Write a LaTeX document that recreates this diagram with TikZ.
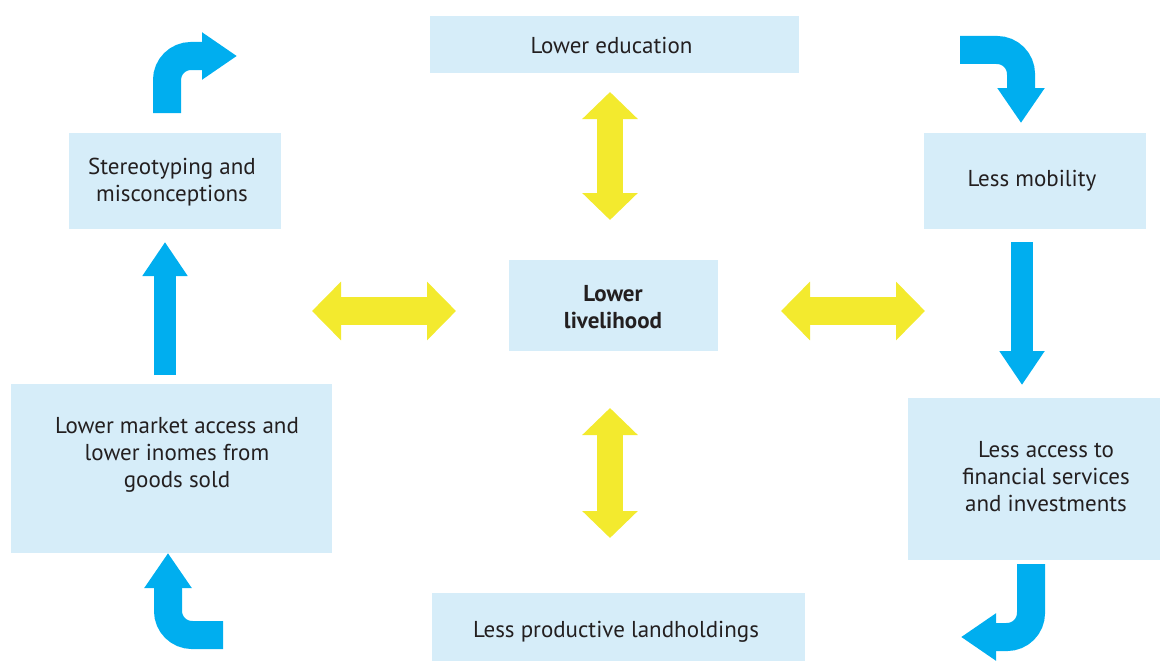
\documentclass[tikz,border=0pt]{standalone}
\usepackage{fontspec}
\setmainfont{PT Sans}
\usetikzlibrary{arrows.meta}
\definecolor{boxblue}{HTML}{D6EDF9}
\definecolor{arrblue}{HTML}{00AEEF}
\definecolor{arryel}{HTML}{F3EA2E}
\definecolor{txtcol}{HTML}{231F20}
\begin{document}
\begin{tikzpicture}[x=1pt,y=-1pt,
  box/.style={fill=boxblue, draw=none, inner sep=0pt},
  lbl/.style={text=txtcol, font=\fontsize{23}{27}\selectfont, align=center, inner sep=0pt},
  bluecurve/.style={draw=arrblue, line width=28pt, rounded corners=24pt,
    -{Triangle[length=35pt,width=45pt]}},
  bluestraight/.style={draw=arrblue, line width=22pt,
    -{Triangle[length=34pt,width=43pt]}},
  yelv/.style={draw=arryel, line width=26pt,
    {Triangle[length=27pt,width=54pt]}-{Triangle[length=27pt,width=54pt]}},
  yelh/.style={draw=arryel, line width=28pt,
    {Triangle[length=29pt,width=57pt]}-{Triangle[length=29pt,width=57pt]}}
]
\useasboundingbox (0,0) rectangle (1161,661);

% boxes
\node[box, minimum width=369pt, minimum height=57pt] (edu) at (614.5,44.5) {};
\node[box, minimum width=212pt, minimum height=96pt] (stereo) at (175,181) {};
\node[box, minimum width=222pt, minimum height=96pt] (mob) at (1035,181) {};
\node[box, minimum width=209pt, minimum height=91pt] (live) at (613,305.5) {};
\node[box, minimum width=321pt, minimum height=169pt] (market) at (171.5,468.5) {};
\node[box, minimum width=252pt, minimum height=162pt] (fin) at (1034,479) {};
\node[box, minimum width=373pt, minimum height=68pt] (land) at (618.5,627) {};

% texts
\node[lbl, anchor=base] (edutxt) at (611.5,53.3) {Lower education};
\node[lbl] (stereotxt) at (172,182) {Stereotyping and\\misconceptions};
\node[lbl, anchor=base] (mobtxt) at (1032,186) {Less mobility};
\node[lbl, font=\fontsize{23}{27}\selectfont\bfseries] (livetxt) at (613,307.5) {Lower\\livelihood};
\node[lbl] (markettxt) at (177,455) {Lower market access and\\lower inomes from\\goods sold};
\node[lbl] (fintxt) at (1046,476.5) {Less access to\\financial services\\and investments};
\node[lbl, anchor=base] (landtxt) at (616,637.3) {Less productive landholdings};

% coordinates for arrows
\coordinate (tl1) at (167,113);  \coordinate (tl2) at (167,56);  \coordinate (tl3) at (237,56);
\coordinate (tr1) at (960,50);   \coordinate (tr2) at (1021,50); \coordinate (tr3) at (1021,123);
\coordinate (br1) at (1031,564); \coordinate (br2) at (1031,637); \coordinate (br3) at (961,637);
\coordinate (bl1) at (223,635);  \coordinate (bl2) at (168,635); \coordinate (bl3) at (168,553);
\coordinate (up1) at (165,375);  \coordinate (up2) at (165,242);
\coordinate (dn1) at (1022,242); \coordinate (dn2) at (1022,385);
\coordinate (yt1) at (610,92);   \coordinate (yt2) at (610,220);
\coordinate (yb1) at (610,408);  \coordinate (yb2) at (610,538);
\coordinate (yl1) at (312,311);  \coordinate (yl2) at (456,311);
\coordinate (yr1) at (781,311);  \coordinate (yr2) at (925,311);

% blue arrows
\draw[bluecurve] (tl1) -- (tl2) -- (tl3);
\draw[bluecurve] (tr1) -- (tr2) -- (tr3);
\draw[bluecurve] (br1) -- (br2) -- (br3);
\draw[bluecurve] (bl1) -- (bl2) -- (bl3);
\draw[bluestraight] (up1) -- (up2);
\draw[bluestraight] (dn1) -- (dn2);

% yellow arrows
\draw[yelv] (yt1) -- (yt2);
\draw[yelv] (yb1) -- (yb2);
\draw[yelh] (yl1) -- (yl2);
\draw[yelh] (yr1) -- (yr2);
\end{tikzpicture}
\end{document}
